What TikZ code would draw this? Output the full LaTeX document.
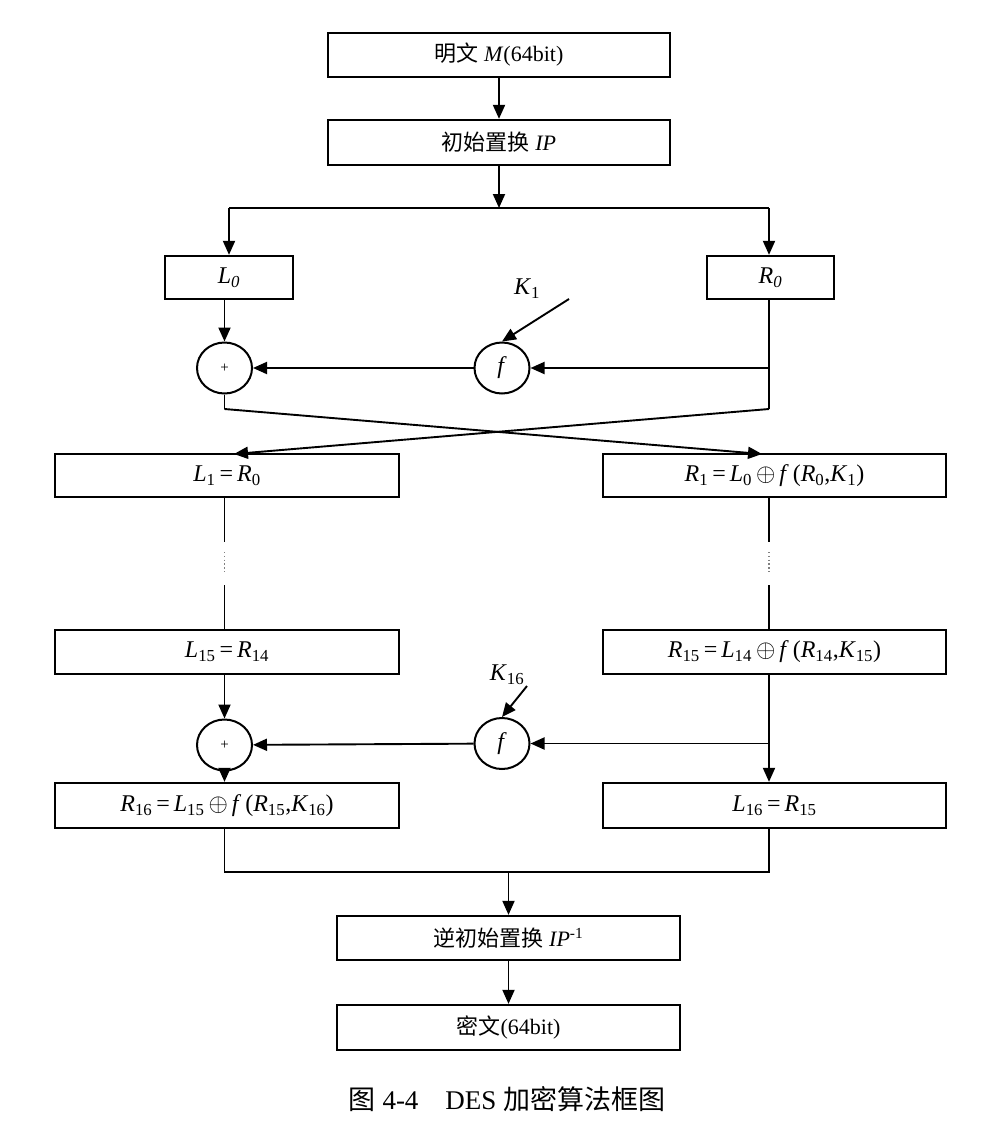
\documentclass[tikz,border=0pt]{standalone}
\usepackage{fontspec}
\setmainfont{Liberation Serif}
\newfontfamily\cjk{Noto Sans CJK SC}
\usetikzlibrary{arrows.meta,shapes.geometric}
\newcommand{\vi}[1]{\textit{#1}}
\newcommand{\sbs}[1]{\textsubscript{#1}}
\newcommand{\eqs}{\,=\,}
\newcommand{\xr}{\,$\oplus$\,}
\begin{document}
\begin{tikzpicture}[x=1pt,y=-1pt,
  font=\fontsize{22}{25}\selectfont,
  eq/.style={font=\fontsize{24}{27}\selectfont},
  box/.style={draw,line width=2.3pt,rectangle,inner sep=0pt},
  op/.style={draw,line width=2pt,ellipse,minimum width=55pt,minimum height=51pt,inner sep=0pt},
  conn/.style={line width=1.9pt},
  arr/.style={conn,-{Triangle[length=14pt,width=12pt]}},
  dots/.style={line width=1.3pt,gray,dash pattern=on 1.3pt off 2.5pt}]
\useasboundingbox (0,0) rectangle (986,1125);
\fill[white] (0,0) rectangle (986,1125);
% boxes
\node[box,minimum width=342pt,minimum height=44pt] (m) at (499,55) {{\cjk 明文} \vi{M}(64bit)};
\node[box,minimum width=342pt,minimum height=45pt] (ip) at (499,142.5) {{\cjk 初始置换} \vi{IP}};
\node[box,eq,minimum width=128pt,minimum height=43pt] (l0) at (229,277.5) {\vi{L\sbs{0}}};
\node[box,eq,minimum width=127pt,minimum height=43pt] (r0) at (770.5,277.5) {\vi{R\sbs{0}}};
\node[op] (p1) at (224.5,368) {\fontsize{15}{16}\selectfont +};
\node[op,eq] (f1) at (502,368) {\vi{f}};
\node[eq] (k1) at (527,289) {\vi{K}\sbs{1}};
\node[box,eq,minimum width=344pt,minimum height=43pt] (l1) at (227,475.5) {\vi{L}\sbs{1}\eqs\vi{R}\sbs{0}};
\node[box,eq,minimum width=343pt,minimum height=43pt] (r1) at (774.5,475.5) {\vi{R}\sbs{1}\eqs\vi{L}\sbs{0}\xr\vi{f}\,(\vi{R}\sbs{0},\vi{K}\sbs{1})};
\node[box,eq,minimum width=344pt,minimum height=44pt] (l15) at (227,652) {\vi{L}\sbs{15}\eqs\vi{R}\sbs{14}};
\node[box,eq,minimum width=343pt,minimum height=44pt] (r15) at (774.5,652) {\vi{R}\sbs{15}\eqs\vi{L}\sbs{14}\xr\vi{f}\,(\vi{R}\sbs{14},\vi{K}\sbs{15})};
\node[op] (p2) at (224.5,745) {\fontsize{15}{16}\selectfont +};
\node[op,eq] (f2) at (502,743.5) {\vi{f}};
\node[eq] (k16) at (507,675) {\vi{K}\sbs{16}};
\node[box,eq,minimum width=344pt,minimum height=45pt] (r16) at (227,805.5) {\vi{R}\sbs{16}\eqs\vi{L}\sbs{15}\xr\vi{f}\,(\vi{R}\sbs{15},\vi{K}\sbs{16})};
\node[box,eq,minimum width=343pt,minimum height=45pt] (l16) at (774.5,805.5) {\vi{L}\sbs{16}\eqs\vi{R}\sbs{15}};
\node[box,minimum width=343pt,minimum height=44pt] (ipi) at (508.5,938) {{\cjk 逆初始置换} \vi{IP}\textsuperscript{-1}};
\node[box,minimum width=343pt,minimum height=45pt] (ct) at (508.5,1027.5) {{\cjk 密文}(64bit)};
\node[font=\fontsize{27}{30}\selectfont] (cap) at (507,1099) {{\cjk 图} 4-4\hspace{1em}DES {\cjk 加密算法框图}};
% coordinates
\coordinate (split) at (499,208);
\coordinate (sl) at (229,208);
\coordinate (sr) at (769,208);
\coordinate (c1l) at (224.5,409);
\coordinate (c1r) at (769,409);
\coordinate (t1l) at (234,454);
\coordinate (t1r) at (762,454);
\coordinate (fr1) at (769,368);
\coordinate (k1s) at (569,299);
\coordinate (k16s) at (527,686);
\coordinate (fr2) at (769,743.5);
\coordinate (bl) at (224.5,872);
\coordinate (br) at (769,872);
\coordinate (bm) at (508.5,872);
% connectors
\draw[arr] (m) -- (ip);
\draw[arr] (ip.south -| split) -- (split);
\draw[conn] (sl) -- (sr);
\draw[arr] (sl) -- (l0);
\draw[arr] (sr) -- (r0.north -| sr);
\draw[arr] (l0.south -| p1) -- (p1);
\draw[conn] (r0.south -| c1r) -- (c1r);
\draw[arr] (fr1) -- (f1);
\draw[arr] (f1) -- (p1);
\draw[arr] (k1s) -- (f1.north);
\draw[conn] (p1) -- (c1l);
\draw[arr] (c1l) -- (t1r);
\draw[arr] (c1r) -- (t1l);
% ellipsis segments
\draw[conn] (l1.south -| p1) -- (224.5,542);
\draw[dots] (224.5,552) -- (224.5,574);
\draw[conn] (224.5,585) -- (l15.north -| p1);
\draw[conn] (r1.south -| c1r) -- (769,542);
\draw[dots] (769,552) -- (769,574);
\draw[conn] (769,585) -- (r15.north -| c1r);
% last round
\draw[arr] (l15.south -| p2) -- (p2);
\draw[arr] (r15.south -| fr2) -- (l16.north -| fr2);
\draw[arr] (fr2) -- (f2);
\draw[arr] (f2) -- (p2);
\draw[arr] (k16s) -- (f2.north);
\draw[arr] (p2) -- (r16.north -| p2);
\draw[conn] (r16.south -| bl) -- (bl) -- (br) -- (l16.south -| br);
\draw[arr] (bm) -- (ipi);
\draw[arr] (ipi) -- (ct);
\end{tikzpicture}
\end{document}
